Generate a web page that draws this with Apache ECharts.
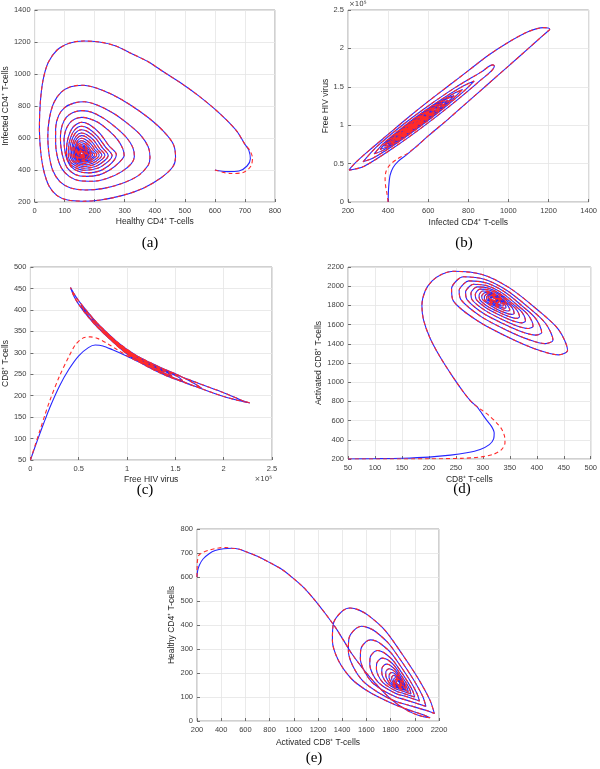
<!DOCTYPE html>
<html><head><meta charset="utf-8">
<script src="https://cdn.jsdelivr.net/npm/echarts/dist/echarts.min.js"></script>
<style>html,body{margin:0;padding:0;background:#fff}#c{width:600px;height:769px}</style>
</head><body><div id="c"></div><script>
// ---------- Panel (a): Healthy CD4+ (x) vs Infected CD4+ (y) ----------
const aStartBlue = [[600,400],[641,390],[680,394],[707,425],[718,470],[713,523]];
const aStartRed = [[600,400],[652,378],[696,386],[720,425],[725,475],[716,523]];
const aSpiral = [
[700,560],[674,640],[640,710],[597,785],[545,865],[488,942],[430,1012],[378,1077],[320,1130],[268,1177],[215,1200],[164,1206],[115,1192],[75,1150],[45,1070],[28,960],[19,820],[16,660],[20,520],[30,400],[48,300],[75,240],[110,212],[160,205],[220,213],[290,240],[360,285],[420,350],[460,420],[469,480],
[462,560],[430,640],[380,725],[320,805],[260,870],[205,913],[160,930],[120,920],[88,885],[64,820],[49,720],[44,610],[48,500],[60,400],[84,328],[120,288],[170,275],[230,285],[290,315],[345,365],[378,430],[384,480],
[378,545],[352,620],[310,690],[262,755],[210,805],[165,827],[130,818],[100,790],[80,740],[70,660],[70,570],[76,480],[90,410],[115,360],[150,333],[195,330],[245,350],[290,390],[322,440],[332,485],
[327,540],[307,600],[274,660],[234,718],[192,760],[158,771],[128,760],[106,730],[92,680],[86,610],[88,540],[96,470],[110,410],[135,372],[170,360],[212,368],[250,400],[280,445],[298,490],
[293,535],[276,590],[248,645],[212,697],[180,722],[157,729],[134,719],[116,692],[103,645],[98,590],[100,530],[107,470],[122,420],[148,390],[178,382],[215,393],[245,425],[266,465],[272,497],
[248,550],[217,629],[182,684],[156,698],[128,668],[110,589],[106,500],[120,434],[166,398],[212,413],[248,459],[258,490],
[236,543],[209,612],[178,661],[156,673],[132,647],[116,578],[112,500],[124,442],[165,411],[205,424],[236,464],[245,491],
[226,538],[203,599],[176,641],[156,652],[135,629],[121,568],[118,500],[129,449],[164,422],[199,434],[226,469],[234,492],
[217,533],[197,585],[173,622],[156,631],[138,611],[126,559],[123,500],[132,456],[163,432],[193,442],[217,473],[224,493],
[209,529],[191,575],[171,607],[156,615],[141,598],[130,552],[128,500],[136,462],[162,441],[188,450],[209,476],[215,494],
[202,525],[187,564],[169,591],[156,598],[143,583],[134,544],[132,500],[139,467],[161,450],[184,457],[202,480],[207,495],
[196,521],[182,554],[167,577],[156,583],[144,571],[137,537],[135,500],[141,472],[160,457],[180,463],[196,483],[200,496],
[189,518],[178,546],[165,565],[156,570],[146,560],[139,532],[138,500],[143,476],[160,463],[176,469],[189,485],[193,496],
[184,515],[175,538],[164,555],[156,559],[148,550],[142,527],[141,500],[145,480],[159,469],[173,474],[184,488],[187,497],
[179,513],[172,533],[163,547],[156,550],[149,543],[144,523],[143,500],[147,483],[159,474],[170,478],[179,490],[182,498],
[176,511],[169,527],[162,539],[156,542],[150,536],[146,519],[145,500],[148,486],[158,478],[168,481],[176,491],[178,498],
[172,509],[167,523],[161,533],[156,535],[151,530],[148,516],[147,500],[150,488],[158,482],[166,485],[172,493],[174,498],
[170,507],[165,519],[160,527],[156,529],[152,525],[149,513],[148,500],[150,490],[157,485],[164,487],[170,494],[171,499],
[167,506],[163,516],[159,522],[156,524],[153,520],[150,511],[150,500],[152,492],[157,488],[163,490],[167,495],[168,499],
[165,505],[162,513],[158,518],[156,520],[153,517],[151,509],[151,500],[153,494],[157,490],[162,492],[165,496],[166,499],
[163,504],[161,510],[158,515],[156,516],[154,514],[152,507],[152,500],[154,495],[157,492],[161,494],[163,497],[164,499],
[162,503],[160,509],[157,512],[156,513],[154,511],[153,506],[153,500],[155,496],[157,494],[160,495],[162,498]
];

// ---------- Panel (b): Infected CD4+ (x) vs Free virus x1e5 (y) ----------
const bStartBlue = [[400,0],[401,0.1],[403,0.2],[410,0.35],[425,0.45],[450,0.53],[490,0.61],[540,0.72]];
const bStartRed = [[400,0],[395,0.1],[388,0.2],[385,0.3],[390,0.4],[408,0.48],[445,0.56],[495,0.63],[540,0.72]];
const bSpiral = [
[600,0.86],[700,1.08],[800,1.31],[900,1.54],[1000,1.77],[1100,2.0],[1160,2.14],[1195,2.22],[1206,2.25],[1198,2.265],[1175,2.27],
[1100,2.22],[1000,2.08],[900,1.91],[800,1.71],[700,1.51],[600,1.31],[500,1.1],[400,0.88],[300,0.66],[240,0.52],[212,0.44],[206,0.415],
[278,0.462],[423,0.699],[568,0.969],[713,1.261],[858,1.58],[930,1.77],[922,1.785],
[865,1.694],[734,1.489],[603,1.256],[472,1.002],[341,0.714],[275,0.523],
[330,0.579],[441,0.762],[552,0.969],[663,1.192],[774,1.435],[829,1.575],
[779,1.516],[679,1.358],[580,1.182],[480,0.988],[380,0.770],[330,0.627],
[374,0.672],[462,0.816],[551,0.982],[639,1.159],[727,1.352],[771,1.465],
[730,1.416],[648,1.286],[566,1.140],[483,0.980],[401,0.801],[360,0.684],
[397,0.721],[471,0.843],[545,0.981],[619,1.129],[692,1.290],[729,1.385],
[694,1.344],[625,1.235],[556,1.111],[486,0.975],[417,0.825],[382,0.726],
[414,0.760],[477,0.863],[540,0.981],[603,1.108],[666,1.245],[698,1.326],
[668,1.289],[608,1.193],[548,1.086],[488,0.970],[428,0.840],[398,0.756],
[426,0.785],[481,0.876],[536,0.978],[591,1.089],[646,1.209],[673,1.279],
[647,1.247],[594,1.163],[542,1.070],[490,0.969],[437,0.854],[411,0.781],
[435,0.807],[483,0.886],[532,0.977],[580,1.073],[628,1.178],[652,1.239],
[629,1.210],[583,1.137],[537,1.054],[491,0.965],[445,0.866],[422,0.802],
[443,0.824],[485,0.893],[527,0.971],[568,1.053],[610,1.145],[631,1.199],
[611,1.175],[571,1.111],[531,1.039],[492,0.964],[452,0.877],[432,0.821],
[450,0.839],[487,0.900],[524,0.970],[560,1.042],[597,1.122],[615,1.169],
[598,1.148],[563,1.092],[528,1.029],[493,0.962],[458,0.886],[441,0.838],
[457,0.855],[488,0.906],[520,0.966],[551,1.028],[582,1.096],[598,1.136],
[583,1.118],[554,1.072],[524,1.018],[494,0.960],[465,0.897],[450,0.855],
[463,0.869],[490,0.913],[517,0.963],[543,1.016],[570,1.074],[583,1.108],
[570,1.092],[545,1.052],[520,1.007],[495,0.959],[470,0.904],[457,0.868],
[468,0.879],[491,0.918],[514,0.961],[536,1.004],[559,1.055],[570,1.083],
[559,1.069],[538,1.036],[517,0.998],[495,0.956],[474,0.911],[463,0.880],
[473,0.891],[492,0.922],[511,0.957],[530,0.995],[549,1.037],[559,1.062],
[550,1.051],[532,1.023],[514,0.991],[496,0.955],[478,0.916],[469,0.891],
[477,0.899],[493,0.926],[510,0.957],[526,0.989],[542,1.025],[550,1.045],
[542,1.035],[527,1.011],[512,0.985],[497,0.955],[482,0.923],[474,0.901],
[481,0.908],[494,0.930],[508,0.955],[522,0.983],[535,1.012],[542,1.030],
[536,1.023],[523,1.002],[510,0.979],[497,0.953],[484,0.926],[478,0.908],
[490,0.925],[505,0.950],[520,0.982],[535,1.015],[527,1.006],[513,0.984],[499,0.955],[482,0.916],
[492,0.930],[506,0.955],[520,0.985],[528,1.003],[520,0.992],[506,0.966],[486,0.925],
[495,0.936],[508,0.960],[521,0.990],[514,0.983],[500,0.955],[490,0.932]
];

// ---------- Panel (c): Free virus x1e5 (x) vs CD8+ (y) ----------
const cStartBlue = [[0,50],[0.05,82],[0.1,113],[0.15,143],[0.2,172],[0.3,222],[0.4,262],[0.5,293],[0.6,312],[0.67,318],[0.75,316],[0.85,307],[1.0,292],[1.1,281]];
const cStartRed = [[0,50],[0.05,85],[0.1,120],[0.15,155],[0.2,188],[0.3,245],[0.4,292],[0.47,320],[0.55,335],[0.62,337],[0.7,333],[0.8,321],[0.9,307],[1.0,293],[1.1,281]];
const cSpiral = [
[1.25,266],[1.5,240],[1.75,218],[2.0,198],[2.15,189],[2.25,184],[2.27,183],
[2.2,188],[2.0,207],[1.75,228],[1.5,250],[1.25,276],[1.0,306],[0.8,344],[0.7,367],[0.6,393],[0.5,421],[0.45,438],[0.415,452],
[0.45,432],[0.5,413],[0.6,383],[0.7,358],[0.85,326],[1.0,297],[1.2,269],[1.4,247],[1.6,230],[1.7,222],[1.77,218],
[1.7,228],[1.5,251],[1.3,270],[1.1,293],[0.9,325],[0.75,356],[0.62,386],[0.55,404],[0.523,411],
[0.56,398],[0.65,372],[0.8,337],[1.0,299],[1.2,271],[1.4,249],[1.52,238],[1.575,235],
[1.52,245],[1.35,262],[1.15,285],[0.95,315],[0.8,343],[0.68,370],[0.627,385],
[0.67,368],[0.8,338],[1.0,300],[1.2,273],[1.4,251],[1.465,246],
[1.4,256],[1.2,277],[1.0,305],[0.85,333],[0.73,360],[0.684,370],
[0.73,358],[0.85,329],[1.05,294],[1.25,268],[1.385,254],
[1.3,265],[1.1,290],[0.92,318],[0.78,348],[0.726,360],
[0.77,348],[0.9,319],[1.1,286],[1.26,266],[1.326,259],
[1.25,270],[1.05,297],[0.88,324],[0.756,353],
[0.8,340],[0.95,310],[1.12,283],[1.279,264],
[1.2,276],[1.02,301],[0.87,326],[0.781,346],
[0.83,333],[0.97,306],[1.12,284],[1.239,268],
[1.16,281],[1.0,304],[0.88,324],[0.802,341],
[0.85,328],[0.98,304],[1.1,287],[1.199,273],
[1.12,286],[0.98,308],[0.821,337],
[0.87,325],[1.0,302],[1.169,277],
[1.09,290],[0.96,311],[0.838,334],
[0.89,320],[1.0,302],[1.136,281],
[1.06,295],[0.95,313],[0.855,331],
[0.9,318],[1.0,302],[1.108,285],
[1.04,298],[0.94,315],[0.868,328],
[0.91,317],[1.0,302],[1.083,289],[1.02,301],[0.93,317],[0.88,326],
[0.92,315],[1.0,302],[1.062,292],[1.0,304],[0.92,318],[0.891,323],
[0.93,313],[1.0,302],[1.045,295],[0.99,306],[0.93,316],[0.901,321],
[0.94,311],[1.03,298],[0.98,307],[0.92,318]
];

// ---------- Panel (d): CD8+ (x) vs Activated CD8+ (y) ----------
const dStartBlue = [[50,200],[100,203],[150,208],[200,220],[240,240],[270,265],[295,300],[312,350],[320,410],[321,470],[316,540],[305,620],[295,700],[289,745]];
const dStartRed = [[50,200],[120,200],[200,202],[260,207],[295,220],[320,250],[335,300],[341,370],[340,440],[335,510],[325,580],[312,650],[298,710],[289,745]];
const dSpiral = [
[278,800],[265,890],[245,1050],[220,1270],[202,1460],[190,1650],[187,1800],[193,1950],[206,2055],[224,2125],[245,2155],
[300,2120],[350,1980],[400,1760],[440,1550],[457,1330],[440,1285],[400,1340],[350,1460],[290,1640],[245,1850],
[242,1974],[252,2062],[264,2098],[304,2070],[344,1958],[384,1782],[416,1614],[430,1438],[416,1402],[384,1446],[344,1542],[296,1686],[260,1854],
[256,1955],[265,2026],[274,2055],[307,2033],[340,1942],[372,1798],[398,1662],[409,1519],[398,1490],[372,1525],[340,1603],[300,1720],[271,1857],
[268,1939],[275,1997],[283,2021],[309,2003],[336,1928],[362,1812],[384,1700],[393,1584],[384,1560],[362,1589],[336,1653],[304,1748],[280,1859],
[278,1926],[283,1973],[290,1993],[311,1978],[333,1917],[354,1823],[372,1732],[379,1638],[372,1618],[354,1642],[333,1694],[307,1771],[288,1861],
[286,1916],[290,1954],[295,1970],[313,1958],[331,1909],[348,1831],[362,1758],[368,1681],[362,1665],[348,1684],[331,1726],[309,1789],[294,1863],
[293,1906],[296,1937],[300,1950],[314,1940],[328,1901],[342,1839],[354,1780],[358,1719],[354,1706],[342,1722],[328,1755],[312,1806],[299,1864],
[298,1899],[301,1923],[305,1933],[316,1925],[327,1894],[338,1846],[346,1800],[350,1751],[346,1741],[338,1753],[327,1780],[313,1819],[303,1866],
[303,1892],[308,1918],[317,1913],[325,1889],[334,1851],[340,1816],[343,1778],[340,1771],[334,1780],[325,1800],[315,1831],[307,1867],
[307,1887],[311,1907],[317,1903],[324,1884],[330,1856],[336,1828],[338,1800],[336,1794],[330,1801],[324,1817],[316,1840],[310,1867],
[310,1883],[313,1898],[318,1895],[323,1881],[328,1859],[332,1838],[334,1816],[332,1812],[328,1817],[323,1829],[317,1847],[312,1868],
[313,1879],[315,1890],[322,1878],[326,1862],[330,1832],[326,1833],[322,1841],[318,1854],[315,1869],
[315,1876],[316,1884],[321,1875],[324,1864],[327,1843],[321,1850],[318,1858]
];

// ---------- Panel (e): Activated CD8+ (x) vs Healthy CD4+ (y) ----------
const eStartBlue = [[200,600],[205,625],[220,650],[250,675],[300,697],[350,710],[420,718],[487,720]];
const eStartRed = [[200,600],[201,640],[204,668],[215,690],[250,703],[300,712],[380,721],[440,723],[487,720]];
const eSpiral = [
[550,716],[600,706],[700,686],[790,663],[900,632],[982,600],[1080,557],[1175,503],[1260,448],[1341,392],[1410,337],[1478,281],[1550,232],[1616,190],[1690,148],[1754,114],[1820,84],[1892,58],[1960,38],[2029,24],[2090,16],[2126,14],
[2080,24],[1974,42],[1836,68],[1700,100],[1600,128],[1478,175],[1368,253],[1319,336],[1327,406],[1396,456],[1465,471],
[1540,462],[1616,440],[1754,378],[1892,281],[2029,176],[2126,86],[2162,31],
[2120,40],[1949,66],[1844,81],[1698,119],[1572,166],[1488,229],[1451,293],[1457,346],[1510,384],[1562,395],
[1619,388],[1677,372],[1782,324],[1887,251],[1991,171],[2065,103],[2092,61],
[1930,87],[1850,99],[1739,127],[1643,163],[1579,212],[1550,260],[1555,301],[1595,330],[1635,338],
[1679,333],[1723,320],[1803,284],[1883,228],[1962,167],[2018,115],[2039,83],
[1916,104],[1855,112],[1771,134],[1698,161],[1649,198],[1628,235],[1631,265],[1661,287],[1692,294],[1725,290],[1758,280],[1819,253],[1880,210],[1940,164],[1983,125],[1998,100],
[1905,115],[1858,122],[1793,139],[1737,160],[1699,188],[1683,217],[1685,240],[1709,257],[1732,262],[1758,259],[1784,252],[1831,231],[1877,198],[1924,162],[1957,132],[1969,113],
[1897,125],[1861,130],[1811,143],[1768,159],[1739,180],[1727,202],[1729,220],[1747,233],[1765,237],[1784,235],[1804,229],[1840,213],[1876,188],[1911,160],[1937,137],[1946,123],
[1891,132],[1863,136],[1825,145],[1792,158],[1770,175],[1760,191],[1761,205],[1775,215],[1789,218],[1804,216],[1819,212],[1847,200],[1874,180],[1902,159],[1921,141],[1928,130],
[1886,137],[1865,140],[1836,148],[1811,157],[1795,170],[1787,182],[1789,193],[1799,200],[1809,202],[1820,201],[1832,198],[1853,188],[1873,174],[1894,158],[1908,145],[1914,136],
[1881,142],[1866,144],[1845,150],[1827,157],[1815,166],[1809,175],[1810,183],[1818,188],[1825,190],[1834,189],[1842,186],[1857,180],[1872,169],[1887,157],[1898,147],[1902,141],
[1878,146],[1867,147],[1852,151],[1839,156],[1830,163],[1826,169],[1827,175],[1832,179],[1838,180],[1844,180],[1861,173],[1872,165],[1883,157],[1890,149],[1893,145],
[1876,148],[1856,152],[1840,158],[1837,166],[1840,172],[1846,174],[1858,170],[1870,163],[1880,155],[1886,149],
[1874,150],[1860,153],[1850,158],[1848,164],[1852,167],[1862,166],[1872,160],[1880,153]
];

// ---------- Axis settings (min, max, interval) and texts ----------
const axX = [[0,800,100],[200,1400,200],[0,2.5,0.5],[50,500,50],[200,2200,200]];
const axY = [[200,1400,200],[0,2.5,0.5],[50,500,50],[200,2200,200],[0,800,100]];
const xNames = ['Healthy CD4\u207A T-cells','Infected CD4\u207A T-cells','Free HIV virus','CD8\u207A T-cells','Activated CD8\u207A T-cells'];
const yNames = ['Infected CD4\u207A T-cells','Free HIV virus','CD8\u207A T-cells','Activated CD8\u207A T-cells','Healthy CD4\u207A T-cells'];
const panelTags = ['(a)','(b)','(c)','(d)','(e)'];

const grids = [
  {left:32, top:10, width:243, height:192},
  {left:348, top:10, width:243, height:192},
  {left:29, top:267, width:243, height:193},
  {left:348, top:267, width:243, height:192},
  {left:197, top:529, width:242, height:192}
];
const xGaps = [15,16,15,16,17];
const yGaps = [21,15,17,19,18];
const tagPos = [[150,243],[464,243],[145,490],[462,489],[314,758]];

const FONT = 'Liberation Sans, Arial, sans-serif';
function mkAxis(i, r, name, gap, isY){
  return {
    type:'value', gridIndex:i, min:r[0], max:r[1], interval:r[2],
    name:name, nameLocation:'middle', nameGap:gap,
    nameTextStyle:{fontSize:8.5, color:'#262626', fontFamily:FONT},
    axisLine:{show:false},
    axisTick:{show:true, inside:true, length:3, lineStyle:{color:'#4d4d4d', width:0.8}},
    axisLabel:{fontSize:7.5, color:'#404040', fontFamily:FONT, margin:isY?4:5,
      formatter:function(v){ return String(Math.round(v*1000)/1000); }},
    splitLine:{show:true, lineStyle:{color:'#e4e4e4', width:0.8}}
  };
}
const BLUE = '#2626ff', RED = '#ff2a2a';
function mkSeries(i, data, color, dashed){
  return {
    type:'line', xAxisIndex:i, yAxisIndex:i, data:data,
    showSymbol:false, symbol:'none', smooth:0.3, silent:true,
    lineStyle:{color:color, width:1.1, type: dashed ? [4,3] : 'solid'},
    z: dashed ? 3 : 2, animation:false
  };
}
const starts = [[aStartBlue,aStartRed,aSpiral],[bStartBlue,bStartRed,bSpiral],[cStartBlue,cStartRed,cSpiral],[dStartBlue,dStartRed,dSpiral],[eStartBlue,eStartRed,eSpiral]];
const series = [];
starts.forEach(function(s,i){
  series.push(mkSeries(i, s[0].concat(s[2]), BLUE, false));
  series.push(mkSeries(i, s[1].concat(s[2]), RED, true));
});

const graphic = panelTags.map(function(t,i){
  return {type:'text', x:tagPos[i][0], y:tagPos[i][1],
    style:{text:t, font:'15px "Liberation Serif", "Times New Roman", serif', fill:'#000', textAlign:'center', textVerticalAlign:'middle'}};
});
graphic.push({type:'text', x:349, y:1, style:{text:'\u00D710\u2075', font:'7px "DejaVu Sans", sans-serif', fill:'#404040'}});
graphic.push({type:'text', x:272, y:476, style:{text:'\u00D710\u2075', font:'7px "DejaVu Sans", sans-serif', fill:'#404040', textAlign:'right'}});

const chart = echarts.init(document.getElementById('c'), null, {renderer:'canvas'});
chart.setOption({
  backgroundColor:'#ffffff',
  animation:false,
  grid: grids.map(function(g){ return Object.assign({show:true, borderColor:'#8c8c8c', borderWidth:0.8, backgroundColor:'#fff'}, g); }),
  xAxis: axX.map(function(r,i){ return mkAxis(i, r, xNames[i], xGaps[i], false); }),
  yAxis: axY.map(function(r,i){ return mkAxis(i, r, yNames[i], yGaps[i], true); }),
  series: series,
  graphic: graphic
});
</script></body></html>
